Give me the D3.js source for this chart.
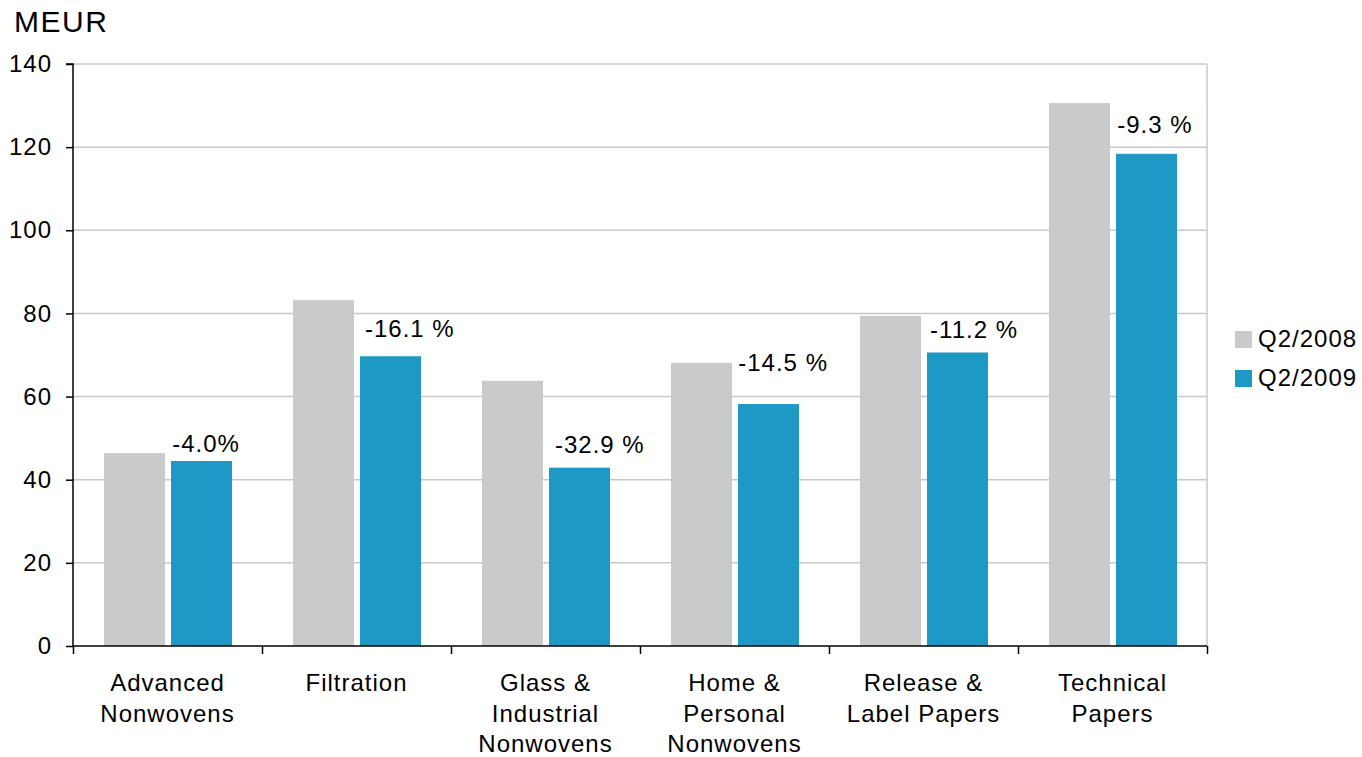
<!DOCTYPE html>
<html>
<head>
<meta charset="utf-8">
<script src="https://cdn.jsdelivr.net/npm/d3@7"></script>
<style>
  html, body { margin: 0; padding: 0; background: #fff; }
  svg { display: block; font-family: "Liberation Sans", Arial, sans-serif; }
  svg text { letter-spacing: 1px; }
</style>
</head>
<body>
<svg id="chart" width="1362" height="757"></svg>
<script>
// Sales by business area, MEUR
const categories = [
  ["Advanced", "Nonwovens"],
  ["Filtration"],
  ["Glass &", "Industrial", "Nonwovens"],
  ["Home &", "Personal", "Nonwovens"],
  ["Release &", "Label Papers"],
  ["Technical", "Papers"]
];
const seriesNames = ["Q2/2008", "Q2/2009"];
const q2_2008 = [46.4, 83.2, 63.8, 68.1, 79.4, 130.6];
const q2_2009 = [44.5, 69.7, 42.9, 58.2, 70.6, 118.4];
const changeLabels = ["-4.0%", "-16.1 %", "-32.9 %", "-14.5 %", "-11.2 %", "-9.3 %"];
const yTicks = [0, 20, 40, 60, 80, 100, 120, 140];

// where each change label sits: left edge as a fraction of its category band, baseline in MEUR
const labelAnchors = [
  [0.525, 46.7], [0.545, 74.3], [0.55, 46.4], [0.52, 66.2], [0.535, 74.1], [0.525, 123.4]
];

const colors = ["#c9cacc", "#1e98c5"];

const svg = d3.select("#chart");
const plotL = 73, plotR = 1207, plotT = 64, plotB = 646;

const x = d3.scaleBand().domain(d3.range(categories.length)).range([plotL, plotR]).padding(0);
const y = d3.scaleLinear().domain([0, 140]).range([plotB, plotT]);
const bw = x.bandwidth();
const barW = bw * 61 / 189, gap = bw * 6 / 189, offset = bw * 31 / 189;

// gridlines
svg.append("g")
  .selectAll("line")
  .data(yTicks.filter(d => d > 0))
  .join("line")
  .attr("x1", plotL).attr("x2", plotR)
  .attr("y1", d => y(d)).attr("y2", d => y(d))
  .attr("stroke", "#c8c8c8").attr("stroke-width", 1.5);

// right frame
svg.append("line")
  .attr("x1", plotR).attr("x2", plotR).attr("y1", plotT).attr("y2", plotB)
  .attr("stroke", "#c8c8c8").attr("stroke-width", 1.5);

// bars
const series = [q2_2008, q2_2009];
series.forEach((vals, s) => {
  svg.append("g")
    .selectAll("rect")
    .data(vals)
    .join("rect")
    .attr("x", (d, i) => x(i) + offset + s * (barW + gap))
    .attr("y", d => y(d))
    .attr("width", barW)
    .attr("height", d => y(0) - y(d))
    .attr("fill", colors[s]);
});

// y axis
const yAxis = d3.axisLeft(y).tickValues(yTicks).tickSize(7).tickPadding(14);
const gy = svg.append("g").attr("transform", `translate(${plotL},0)`).call(yAxis);
gy.select(".domain").attr("stroke", "#000").attr("stroke-width", 1.5).attr("d", `M-7,${plotT}H0V${plotB}`);
gy.selectAll(".tick line").attr("stroke", "#000").attr("stroke-width", 1.5);
gy.selectAll(".tick text").attr("font-size", 24).attr("fill", "#000")
  .attr("font-family", "Liberation Sans, Arial, sans-serif");

// x axis with ticks at band boundaries
const xb = d3.scaleLinear().domain([0, categories.length]).range([plotL, plotR]);
const xAxis = d3.axisBottom(xb).ticks(categories.length).tickSize(8).tickFormat("");
const gx = svg.append("g").attr("transform", `translate(0,${plotB})`).call(xAxis);
gx.select(".domain").attr("stroke", "#000").attr("stroke-width", 1.5).attr("d", `M${plotL},0H${plotR}`);
gx.selectAll(".tick line").attr("stroke", "#000").attr("stroke-width", 1.5);

// category labels
const catG = svg.append("g");
categories.forEach((lines, i) => {
  const t = catG.append("text")
    .attr("x", x(i) + bw / 2)
    .attr("y", 691)
    .attr("text-anchor", "middle")
    .attr("font-size", 24)
    .attr("fill", "#000");
  lines.forEach((ln, k) => {
    t.append("tspan").attr("x", x(i) + bw / 2).attr("dy", k === 0 ? 0 : 30.5).text(ln);
  });
});

// change labels
svg.append("g")
  .selectAll("text")
  .data(changeLabels)
  .join("text")
  .attr("x", (d, i) => x(i) + labelAnchors[i][0] * bw)
  .attr("y", (d, i) => y(labelAnchors[i][1]))
  .attr("font-size", 24)
  .attr("fill", "#000")
  .text(d => d);

// unit label
svg.append("text")
  .attr("x", 14).attr("y", 32)
  .attr("font-size", 30)
  .attr("fill", "#000")
  .style("letter-spacing", "1.5px")
  .text("MEUR");

// legend
const lg = svg.append("g").attr("transform", "translate(1235,331)");
seriesNames.forEach((n, i) => {
  lg.append("rect").attr("x", 0).attr("y", i * 39).attr("width", 17).attr("height", 17).attr("fill", colors[i]);
  lg.append("text").attr("x", 23).attr("y", i * 39 + 16).attr("font-size", 24).attr("fill", "#000").text(n);
});
</script>
</body>
</html>
